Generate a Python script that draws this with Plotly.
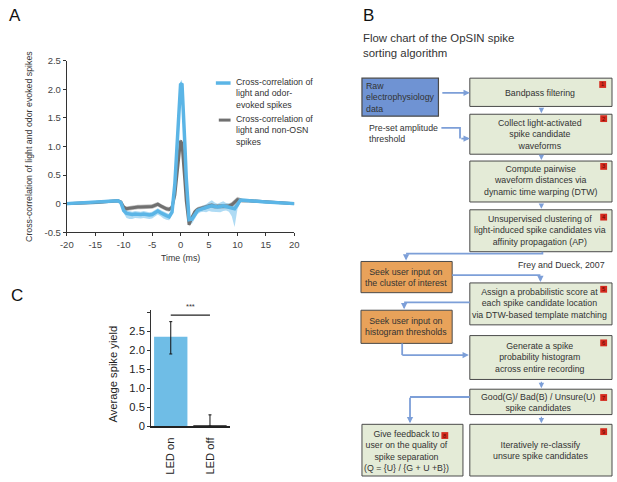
import plotly.graph_objects as go

W, H = 617, 482
FONT = "Liberation Sans"

# ---------------- Panel A data ----------------
t_ms = [-20, -15, -11, -10.5, -10, -9.5, -9, -8.5, -8, -7.5, -7, -6.5, -6, -5.5, -5, -4.5, -4, -3.5,
        -3, -2.5, -2, -1.5, -1, -0.5, 0, 0.25, 0.5, 0.75, 1, 1.5, 2, 2.5, 3, 3.5, 4, 4.5, 5, 5.5,
        6, 6.5, 7, 7.5, 8, 8.5, 9, 9.5, 10, 10.5, 11, 12, 15, 20]
odor_mean = [0.00, 0.02, 0.05, 0.02, -0.12, -0.17, -0.18, -0.19, -0.18, -0.19, -0.19, -0.18, -0.19, -0.20,
             -0.19, -0.16, -0.13, -0.16, -0.19, -0.21, -0.23, -0.15, 0.35, 1.30, 2.08, 2.10, 1.65, 1.05,
             0.45, -0.28, -0.27, -0.18, -0.12, -0.10, -0.08, -0.07, -0.05, -0.04, -0.05, -0.06, -0.05,
             -0.04, -0.05, -0.06, -0.07, -0.09, -0.02, 0.06, 0.06, 0.05, 0.03, 0.00]
odor_err_lo = [0.03, 0.03, 0.03, 0.03, 0.05, 0.08, 0.09, 0.08, 0.07, 0.07, 0.07, 0.07, 0.07, 0.07,
               0.07, 0.06, 0.06, 0.06, 0.07, 0.07, 0.06, 0.05, 0.06, 0.06, 0.06, 0.06, 0.06, 0.06,
               0.06, 0.07, 0.08, 0.08, 0.06, 0.05, 0.06, 0.08, 0.08, 0.10, 0.09, 0.08, 0.10,
               0.09, 0.07, 0.08, 0.15, 0.32, 0.08, 0.04, 0.03, 0.03, 0.03, 0.03]
odor_err_hi = [0.03, 0.03, 0.03, 0.03, 0.04, 0.05, 0.05, 0.05, 0.05, 0.05, 0.05, 0.05, 0.05, 0.05,
               0.05, 0.05, 0.05, 0.05, 0.05, 0.05, 0.05, 0.05, 0.06, 0.06, 0.06, 0.06, 0.06, 0.06,
               0.06, 0.06, 0.06, 0.06, 0.05, 0.05, 0.05, 0.06, 0.08, 0.10, 0.07, 0.06, 0.07,
               0.08, 0.06, 0.06, 0.06, 0.08, 0.06, 0.04, 0.03, 0.03, 0.03, 0.03]
nonosn_mean = [0.00, 0.02, 0.05, 0.03, -0.06, -0.09, -0.08, -0.07, -0.07, -0.06, -0.06, -0.06, -0.06, -0.05,
               -0.05, -0.03, -0.01, -0.04, -0.07, -0.09, -0.10, -0.06, 0.15, 0.62, 1.10, 1.05, 0.78, 0.40,
               0.05, -0.37, -0.24, -0.14, -0.10, -0.09, -0.08, -0.06, -0.04, -0.03, -0.05, -0.05, -0.05,
               -0.04, -0.05, -0.04, -0.02, 0.03, 0.07, 0.06, 0.05, 0.05, 0.03, 0.00]
nonosn_err = [0.02, 0.02, 0.02, 0.02, 0.03, 0.04, 0.04, 0.04, 0.04, 0.04, 0.04, 0.04, 0.04, 0.04,
              0.04, 0.04, 0.04, 0.04, 0.04, 0.04, 0.04, 0.03, 0.03, 0.03, 0.03, 0.03, 0.03, 0.03,
              0.03, 0.03, 0.04, 0.04, 0.04, 0.04, 0.04, 0.04, 0.04, 0.04, 0.04, 0.04, 0.04,
              0.04, 0.04, 0.04, 0.05, 0.05, 0.05, 0.04, 0.03, 0.02, 0.02, 0.02]
a_xticks = [-20, -15, -10, -5, 0, 5, 10, 15, 20]
a_xticktext = ["-20", "-15", "-10", "-5", "0", "5", "10", "15", "20"]
a_yticks = [-0.5, 0, 0.5, 1.0, 1.5, 2.0, 2.5]
a_yticktext = ["-0.5", "0", "0.5", "1.0", "1.5", "2.0", "2.5"]
a_ytitle = "Cross-correlation of light and odor evoked spikes"
a_xtitle = "Time (ms)"
legend_labels = ["Cross-correlation of<br>light and odor-<br>evoked spikes",
                 "Cross-correlation of<br>light and non-OSN<br>spikes"]

# ---------------- Panel C data ----------------
c_categories = ["LED on", "LED off"]
c_values = [2.35, 0.03]
c_err_plus = [0.40, 0.27]
c_err_minus = [0.45, 0.03]
c_yticks = [0, 0.5, 1.0, 1.5, 2.0, 2.5, 3.0]
c_yticktext = ["0", "0.5", "1.0", "1.5", "2.0", "2.5", ""]
c_ytitle = "Average spike yield"
c_sig = "***"

# ---------------- Panel B text ----------------
flow_title = "Flow chart of the OpSIN spike<br>sorting algorithm"
raw_text = "Raw<br>electrophysiology<br>data"
preset_text = "Pre-set amplitude<br>threshold"
citation_text = "Frey and Dueck, 2007"
step_texts = [
    "Bandpass filtering",
    "Collect light-activated<br>spike candidate<br>waveforms",
    "Compute pairwise<br>waveform distances via<br>dynamic time warping (DTW)",
    "Unsupervised clustering of<br>light-induced spike candidates via<br>affinity propagation (AP)",
    "Assign a probabilistic score at<br>each spike candidate location<br>via DTW-based template matching",
    "Generate a spike<br>probability histogram<br>across entire recording",
    "Good(G)/ Bad(B) / Unsure(U)<br>spike candidates",
    "Give feedback to<br>user on the quality of<br>spike separation<br>(Q = {U} / {G + U +B})",
    "Iteratively re-classify<br>unsure spike candidates",
]
step_numbers = ["1", "2", "3", "4", "5", "6", "7", "8", "9"]
user_texts = ["Seek user input on<br>the cluster of interest",
              "Seek user input on<br>histogram thresholds"]
panel_letters = ["A", "B", "C"]

# ---------------- styles / layout geometry (pixels) ----------------
BLUE = "#5bb5e6"
BLUE_BAND = "rgba(110,190,235,0.55)"
GRAY = "#707070"
GRAY_BAND = "rgba(110,110,110,0.45)"
BAR_ON = "#6fbde6"
BAR_OFF = "#1a1a1a"
GREEN_FILL = "#e4ebd7"
ORANGE_FILL = "#e8a25a"
RAW_FILL = "#6f93d3"
BOX_LINE = "#4a4a4a"
ARROW = "#7d9fd8"
RED = "#d42a1e"
TXT = "#333333"


def X(px):
    return px / W


def Y(py):
    return 1 - py / H


step_boxes = [(472, 74, 617, 103), (472, 111, 617, 152), (472, 159, 617, 201), (472, 209, 617, 252),
              (472, 284, 617, 327), (472, 338, 617, 383), (472, 393, 617, 419), (362, 429, 465, 482),
              (472, 429, 617, 482)]
step_text_pos = [(544, 89), (544, 132), (544, 179), (544, 230), (543, 305), (544, 360), (542, 407),
                 (407, 456), (544, 455.5)]
red_pos = [(604, 77), (605, 112), (605, 161), (605, 213), (605, 287), (605, 342), (605, 398),
           (443, 437), (605, 433)]
user_boxes = [(361, 262, 454, 294), (361, 312, 454, 346)]
user_text_pos = [(407, 278), (407, 329)]
raw_box = (362, 74, 440, 113)

fig = go.Figure()

# ---- Panel A traces
lo = [m - e for m, e in zip(odor_mean, odor_err_lo)]
hi = [m + e for m, e in zip(odor_mean, odor_err_hi)]
fig.add_trace(go.Scatter(x=t_ms, y=hi, mode="lines", line=dict(width=0), showlegend=False,
                         hoverinfo="skip", xaxis="x", yaxis="y"))
fig.add_trace(go.Scatter(x=t_ms, y=lo, mode="lines", line=dict(width=0), fill="tonexty",
                         fillcolor=BLUE_BAND, showlegend=False, hoverinfo="skip", xaxis="x", yaxis="y"))
glo = [m - e for m, e in zip(nonosn_mean, nonosn_err)]
ghi = [m + e for m, e in zip(nonosn_mean, nonosn_err)]
fig.add_trace(go.Scatter(x=t_ms, y=ghi, mode="lines", line=dict(width=0), showlegend=False,
                         hoverinfo="skip", xaxis="x", yaxis="y"))
fig.add_trace(go.Scatter(x=t_ms, y=glo, mode="lines", line=dict(width=0), fill="tonexty",
                         fillcolor=GRAY_BAND, showlegend=False, hoverinfo="skip", xaxis="x", yaxis="y"))
fig.add_trace(go.Scatter(x=t_ms, y=nonosn_mean, mode="lines", line=dict(color=GRAY, width=3),
                         name="non-OSN", showlegend=False, xaxis="x", yaxis="y"))
fig.add_trace(go.Scatter(x=t_ms, y=odor_mean, mode="lines", line=dict(color=BLUE, width=3.5),
                         name="odor", showlegend=False, xaxis="x", yaxis="y"))

# ---- Panel C traces
fig.add_trace(go.Bar(x=c_categories, y=c_values, marker=dict(color=[BAR_ON, BAR_OFF], line=dict(width=0)),
                     width=0.85,
                     error_y=dict(type="data", symmetric=False, array=c_err_plus, arrayminus=c_err_minus,
                                  color="#111111", thickness=1, width=1.5),
                     showlegend=False, xaxis="x2", yaxis="y2"))

axis_common = dict(showgrid=False, zeroline=False, showline=True, linecolor="#333333", linewidth=1,
                   ticks="outside", ticklen=3, tickcolor="#333333")

fig.update_layout(
    width=W, height=H, autosize=False,
    margin=dict(l=0, r=0, t=0, b=0),
    paper_bgcolor="white", plot_bgcolor="white",
    font=dict(family=FONT, color=TXT),
    xaxis=dict(domain=[X(61), X(293)], range=[-20, 20], tickvals=a_xticks, ticktext=a_xticktext,
               tickfont=dict(size=9.5, color="#444444"), anchor="y", **axis_common),
    yaxis=dict(domain=[Y(232), Y(56)], range=[-0.5, 2.5], tickvals=a_yticks, ticktext=a_yticktext,
               tickfont=dict(size=9.5, color="#444444"), anchor="x", **axis_common),
    xaxis2=dict(domain=[X(147), X(227)], range=[-0.5, 1.5], type="category", tickangle=-90,
                tickfont=dict(size=11.2, color="#222222"), anchor="y2", showgrid=False, zeroline=False,
                showline=True, linecolor="#222222", linewidth=1.5, ticks="", ticklabelstandoff=5),
    yaxis2=dict(domain=[Y(431), Y(312)], range=[0, 3.05], tickvals=c_yticks, ticktext=c_yticktext,
                tickfont=dict(size=11.2, color="#222222"), anchor="x2", **axis_common),
)

shapes = []
ann = []


def text_at(px, py, text, size, xanchor="center", yanchor="middle", align="center", angle=0,
            color=TXT):
    ann.append(dict(x=X(px), y=Y(py), xref="paper", yref="paper", text=text, showarrow=False,
                    xanchor=xanchor, yanchor=yanchor, align=align, textangle=angle,
                    font=dict(size=size, color=color)))


# Panel A legend (drawn manually) and axis titles
shapes.append(dict(type="line", xref="paper", yref="paper", x0=X(213), x1=X(228), y0=Y(79), y1=Y(79),
                   line=dict(color=BLUE, width=3.5)))
shapes.append(dict(type="line", xref="paper", yref="paper", x0=X(216), x1=X(228), y0=Y(117), y1=Y(117),
                   line=dict(color=GRAY, width=3)))
text_at(232, 89.5, legend_labels[0], 8.8, xanchor="left", align="left")
text_at(232, 127.5, legend_labels[1], 8.8, xanchor="left", align="left")
text_at(23, 144, a_ytitle, 8.8, angle=-90)
text_at(177, 258, a_xtitle, 8.8)

# Panel C title + significance
text_at(108, 377, c_ytitle, 11.2, angle=-90, color="#222222")
shapes.append(dict(type="line", xref="x2", yref="y2", x0=0, x1=1, y0=2.92, y1=2.92,
                   line=dict(color="#222222", width=1.2)))
text_at(187.5, 308, c_sig, 7.5)

# Panel letters
text_at(0, 10, panel_letters[0], 17, xanchor="left", color="#111111")
text_at(361, 10, panel_letters[1], 17, xanchor="left", color="#111111")
text_at(2, 297, panel_letters[2], 17, xanchor="left", color="#111111")

# Panel B: title
text_at(361, 40, flow_title, 11.4, xanchor="left", align="left")


def rect(b, fill, lw=1):
    shapes.append(dict(type="rect", xref="paper", yref="paper", x0=X(b[0]), x1=X(b[2]),
                       y0=Y(b[3]), y1=Y(b[1]), fillcolor=fill, line=dict(color=BOX_LINE, width=lw),
                       layer="below"))


rect(raw_box, RAW_FILL, 1.2)
text_at(364, 94, raw_text, 8.8, xanchor="left", align="left")
text_at(367, 130.5, preset_text, 8.8, xanchor="left", align="left")
text_at(612, 266, citation_text, 8.8, xanchor="right", align="right")

for b, p, t in zip(step_boxes, step_text_pos, step_texts):
    rect(b, GREEN_FILL)
    text_at(p[0], p[1], t, 8.8)
for b, p, t in zip(user_boxes, user_text_pos, user_texts):
    rect(b, ORANGE_FILL)
    text_at(p[0], p[1], t, 8.8)
for (rx, ry), n in zip(red_pos, step_numbers):
    shapes.append(dict(type="rect", xref="paper", yref="paper", x0=X(rx), x1=X(rx + 7),
                       y0=Y(ry + 7), y1=Y(ry), fillcolor=RED, line=dict(width=0)))
    text_at(rx + 3.5, ry + 3.5, n, 5.5, color="#5a0a05")


def poly(points):
    path = "M " + " L ".join(f"{X(x):.5f},{Y(y):.5f}" for x, y in points)
    shapes.append(dict(type="path", xref="paper", yref="paper", path=path,
                       line=dict(color=ARROW, width=1.8)))


def arrow(tail, tip, small=False):
    ann.append(dict(x=X(tip[0]), y=Y(tip[1]), xref="paper", yref="paper",
                    ax=tail[0] - tip[0], ay=tail[1] - tip[1], axref="pixel", ayref="pixel",
                    text="", showarrow=True, arrowhead=2,
                    arrowsize=0.9 if small else 0.7, arrowwidth=1.2 if small else 1.8,
                    arrowcolor=ARROW, standoff=0, startstandoff=0))


arrow((443, 89), (472, 89))
poly([(443, 125), (462, 125), (462, 136)])
arrow((462, 136), (472, 136))
arrow((545, 104), (545, 110), small=True)
arrow((545, 153), (545, 158), small=True)
arrow((545, 202), (545, 208), small=True)
poly([(546, 252), (546, 254), (407, 254)])
arrow((407, 254), (407, 261))
poly([(454, 276), (544, 276)])
arrow((544, 276), (544, 283))
poly([(472, 304), (405, 304)])
arrow((405, 304), (405, 311))
poly([(403, 346), (403, 358)])
arrow((403, 358), (471, 358))
arrow((545, 384), (545, 392), small=True)
poly([(472, 401), (411, 401)])
arrow((411, 401), (411, 428))
arrow((545, 420), (545, 428), small=True)

fig.update_layout(shapes=shapes, annotations=ann)
fig.write_html("out.html", config={"displayModeBar": False},
               post_script="document.body.style.margin='0px';")
